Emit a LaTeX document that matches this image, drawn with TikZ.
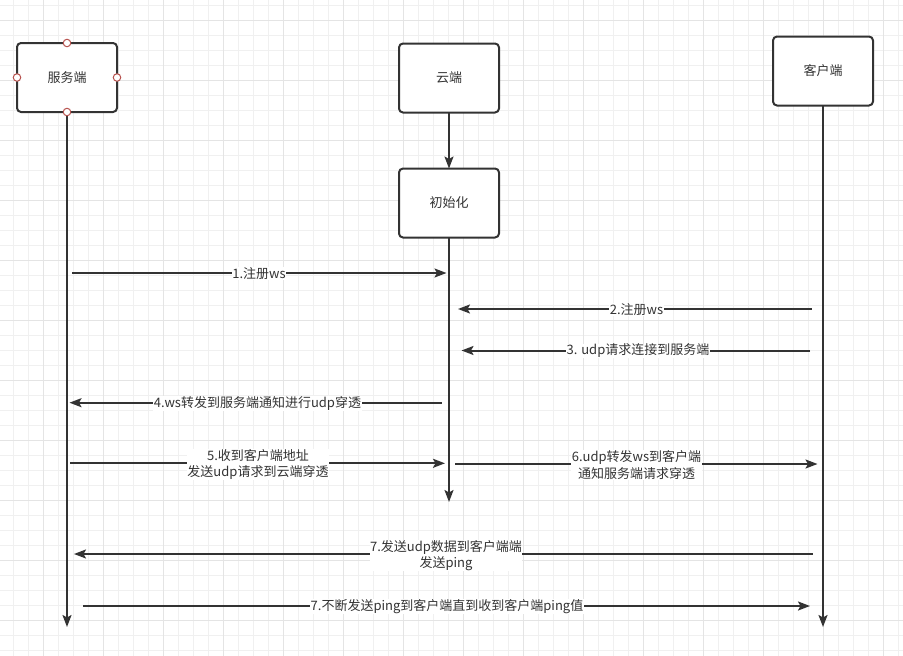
\documentclass[tikz,border=0pt]{standalone}
\usepackage{fontspec}
\setmainfont{Noto Sans CJK SC}
\usetikzlibrary{arrows.meta}
\definecolor{ink}{HTML}{333333}
\definecolor{gridminor}{HTML}{F0F0F0}
\definecolor{gridmajor}{HTML}{E4E4E4}
\definecolor{handle}{HTML}{B85450}
\tikzset{
  actor/.style={draw=ink, line width=2pt, rounded corners=4pt, fill=white,
    minimum width=100pt, minimum height=69pt, outer sep=0pt, inner sep=0pt,
    text=ink, font=\fontsize{13}{15}\selectfont},
  msg/.style={draw=ink, line width=2pt, -{Stealth[length=12pt,width=9pt,inset=2.5pt]}},
  life/.style={draw=ink, line width=2pt, -{Stealth[length=12pt,width=9pt,inset=2.5pt]}},
  lbl/.style={fill=white, inner sep=0.5pt, text=ink, align=center,
    font=\fontsize{13}{16.5}\selectfont},
  handlept/.style={circle, draw=handle, fill=white, line width=1pt, minimum size=7.5pt, inner sep=0pt}
}
\begin{document}
\begin{tikzpicture}[x=1pt, y=-1pt]
\useasboundingbox (0,0) rectangle (903,656);
\fill[white] (0,0) rectangle (903,656);
% grid
\foreach \k in {0,...,59} \draw[gridminor, line width=0.8pt] ({13.33+15*\k},0) -- ({13.33+15*\k},656);
\foreach \k in {0,...,43} \draw[gridminor, line width=0.8pt] (0,{5+15*\k}) -- (903,{5+15*\k});
\foreach \k in {0,...,14} \draw[gridmajor, line width=0.8pt] ({43.33+60*\k},0) -- ({43.33+60*\k},656);
\foreach \k in {0,...,10} \draw[gridmajor, line width=0.8pt] (0,{20+60*\k}) -- (903,{20+60*\k});

% actors
\node[actor] (srv) at (67,77.5) {服务端};
\node[actor] (cloud) at (449,78) {云端};
\node[actor] (init) at (449,203) {初始化};
\node[actor] (cli) at (823,71) {客户端};

% lifeline ends
\coordinate (srvend) at (67,627);
\coordinate (cloudend) at (449,502);
\coordinate (cliend) at (823,627);

\draw[life] (srv.south) -- (srvend);
\draw[life] (cloud.south) -- (init.north);
\draw[life] (init.south) -- (cloudend);
\draw[life] (cli.south) -- (cliend);

% handles
\foreach \a in {north,south,east,west} \node[handlept] at (srv.\a) {};

% message end points
\coordinate (m1a) at (72,273); \coordinate (m1b) at (446.5,273);
\coordinate (m2a) at (811.5,309); \coordinate (m2b) at (458,309);
\coordinate (m3a) at (810,350.5); \coordinate (m3b) at (461.5,350.5);
\coordinate (m4a) at (441.5,402.7); \coordinate (m4b) at (69.5,402.7);
\coordinate (m5a) at (70,463.3); \coordinate (m5b) at (445,463.3);
\coordinate (m6a) at (455,464); \coordinate (m6b) at (817.5,464);
\coordinate (m7a) at (812.5,554); \coordinate (m7b) at (74,554);
\coordinate (m8a) at (83,606); \coordinate (m8b) at (810,606);

\draw[msg] (m1a) -- (m1b);
\draw[msg] (m2a) -- (m2b);
\draw[msg] (m3a) -- (m3b);
\draw[msg] (m4a) -- (m4b);
\draw[msg] (m5a) -- (m5b);
\draw[msg] (m6a) -- (m6b);
\draw[msg] (m7a) -- (m7b);
\draw[msg] (m8a) -- (m8b);

% labels
\node[lbl] (l1) at (259,273.5) {1.注册ws};
\node[lbl] (l2) at (636.5,309.5) {2.注册ws};
\node[lbl] (l3) at (638,351) {3. udp请求连接到服务端};
\node[lbl] (l4) at (257.5,403.5) {4.ws转发到服务端通知进行udp穿透};
\node[lbl] (l5) at (258,464.5) {5.收到客户端地址\\发送udp请求到云端穿透};
\node[lbl] (l6) at (636.5,465) {6.udp转发ws到客户端\\通知服务端请求穿透};
\node[lbl] (l7) at (446,555.5) {7.发送udp数据到客户端端\\发送ping};
\node[lbl] (l8) at (447,606.5) {7.不断发送ping到客户端直到收到客户端ping值};
\end{tikzpicture}
\end{document}
